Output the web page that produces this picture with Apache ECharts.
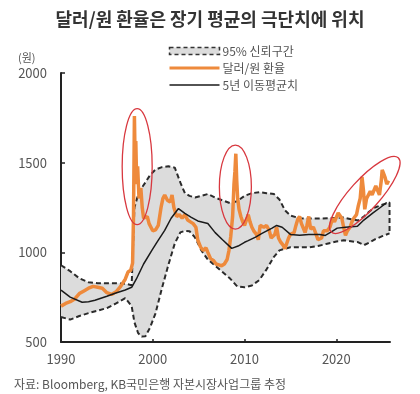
<!DOCTYPE html>
<html><head><meta charset="utf-8">
<script src="https://cdn.jsdelivr.net/npm/echarts@6/dist/echarts.min.js"></script>
<style>html,body{margin:0;padding:0;background:#fff;}#c{width:420px;height:394px;}</style>
</head><body><div id="c"></div>
<script>
const titleText = '달러/원 환율은 장기 평균의 극단치에 위치';
const unitText = '(원)';
const sourceText = '자료: Bloomberg, KB국민은행 자본시장사업그룹 추정';
const seriesNames = ['95% 신뢰구간', '달러/원 환율', '5년 이동평균치'];
const xTicks = [1990, 2000, 2010, 2020];
const yTicks = [500, 1000, 1500, 2000];

const bandYears = [1990,1991,1992,1993,1994,1995,1996,1997,1997.7,1998,1998.4,1998.8,1999.2,1999.7,2000.3,2001,2001.7,2002.4,2003,2003.5,2004,2004.6,2005.3,2006,2006.8,2007.6,2008.4,2009.2,2010,2010.8,2011.6,2012.4,2013.2,2013.8,2014.4,2015,2016,2017,2018,2019,2020,2020.8,2021.6,2022.4,2023,2023.6,2024.2,2025,2025.8];
const bandUpper = [928,895,855,833,828,828,828,825,817,1250,1320,1360,1390,1430,1462,1475,1480,1472,1390,1330,1315,1306,1315,1325,1305,1290,1275,1285,1315,1330,1335,1330,1325,1295,1235,1205,1190,1188,1188,1190,1192,1194,1185,1178,1200,1228,1250,1265,1278];
const bandLower = [639,625,645,661,675,689,715,745,700,610,550,530,532,580,660,800,930,1050,1111,1120,1118,1083,1010,960,925,890,855,810,805,815,845,905,975,1011,1020,1028,1028,1028,1035,1048,1060,1067,1062,1056,1040,1055,1072,1090,1106];

const usdYears = [1990,1990.5,1991,1991.5,1992,1992.5,1993,1993.5,1994,1994.5,1995,1995.5,1996,1996.5,1997,1997.3,1997.6,1997.8,1997.9,1998,1998.08,1998.15,1998.25,1998.35,1998.5,1998.7,1998.85,1999,1999.2,1999.4,1999.6,1999.8,2000,2000.3,2000.6,2000.9,2001.1,2001.3,2001.6,2001.9,2002.1,2002.3,2002.6,2002.9,2003.2,2003.5,2003.8,2004.1,2004.4,2004.7,2004.9,2005.2,2005.5,2005.8,2006,2006.3,2006.6,2006.9,2007.2,2007.5,2007.8,2008.1,2008.3,2008.5,2008.7,2008.85,2008.95,2009.05,2009.15,2009.25,2009.4,2009.6,2009.8,2010,2010.2,2010.4,2010.6,2010.8,2011,2011.3,2011.5,2011.7,2011.9,2012.1,2012.4,2012.7,2012.9,2013.1,2013.3,2013.5,2013.7,2013.9,2014.2,2014.4,2014.6,2014.8,2015,2015.2,2015.4,2015.6,2015.8,2016,2016.2,2016.4,2016.6,2016.8,2017,2017.2,2017.5,2017.8,2018,2018.2,2018.4,2018.6,2018.8,2019,2019.3,2019.6,2019.8,2020,2020.2,2020.4,2020.6,2020.8,2021,2021.2,2021.5,2021.7,2021.9,2022.2,2022.4,2022.6,2022.8,2022.95,2023.1,2023.3,2023.5,2023.7,2023.9,2024.1,2024.3,2024.5,2024.7,2024.9,2025,2025.15,2025.3,2025.5,2025.7];
const usdValues = [700,715,725,740,770,785,800,810,805,800,775,765,780,810,850,890,900,940,1200,1760,1500,1620,1380,1480,1300,1360,1250,1190,1180,1200,1160,1140,1120,1125,1150,1250,1300,1320,1290,1280,1320,1250,1200,1210,1190,1210,1180,1170,1160,1140,1070,1030,1010,1025,1000,965,955,935,930,925,935,960,1010,1090,1200,1380,1450,1550,1400,1300,1240,1200,1170,1150,1140,1210,1170,1140,1120,1100,1070,1150,1160,1140,1150,1120,1080,1070,1100,1140,1080,1060,1040,1020,1030,1080,1100,1090,1110,1150,1185,1200,1160,1170,1110,1150,1200,1130,1140,1100,1070,1070,1080,1120,1130,1120,1140,1190,1170,1160,1220,1210,1190,1140,1095,1120,1140,1170,1190,1210,1260,1300,1420,1350,1240,1300,1290,1340,1320,1330,1370,1380,1320,1400,1460,1440,1420,1380,1400];

const maYears = [1990,1991,1992.3,1993,1993.7,1995,1995.9,1997,1997.7,1998.2,1999,1999.9,2000.5,2001.3,2002,2002.8,2003.5,2004.2,2004.9,2006,2006.8,2007.6,2008.6,2009.3,2010,2010.4,2011.2,2011.9,2013,2013.5,2014.1,2015,2016,2017,2018.2,2018.8,2019.5,2020.1,2021,2022.3,2023,2024,2024.8,2025.5];
const maValues = [789,750,722,725,733,755,772,790,805,850,935,1011,1060,1122,1190,1244,1217,1195,1175,1161,1110,1070,1022,1035,1056,1065,1085,1106,1135,1150,1140,1100,1095,1100,1100,1094,1115,1135,1140,1145,1180,1220,1250,1278];

// annotation ellipses: center in data coords, radii in px, rotation in degrees
const notes = [
  {x: 1998.3, y: 1478, rx: 15, ry: 58, rot: 0},
  {x: 2009.0, y: 1364, rx: 16, ry: 42, rot: 0},
  {x: 2023.1, y: 1320, rx: 50, ry: 15, rot: 48}
];

const FONT = '"Noto Sans CJK KR", "Noto Sans", sans-serif';
const pair = (xs, ys) => xs.map((x, i) => [x, ys[i]]);
const upperOutline = pair(bandYears, bandUpper).concat([[bandYears[bandYears.length-1], bandLower[bandLower.length-1]]]);

const chart = echarts.init(document.getElementById('c'), null, {renderer: 'canvas'});
const dash = {color: '#2b2b2b', width: 2, type: [5, 3]};
chart.setOption({
  animation: false,
  backgroundColor: '#fff',
  textStyle: {fontFamily: FONT},
  title: [
    {text: titleText, left: 'center', top: 5, textStyle: {fontFamily: FONT, fontSize: 18, fontWeight: 'bold', color: '#333'}},
    {text: unitText, left: 13, top: 47, textStyle: {fontFamily: FONT, fontSize: 11, fontWeight: 'normal', color: '#555'}},
    {text: sourceText, left: 9, top: 373, textStyle: {fontFamily: FONT, fontSize: 12, fontWeight: 'normal', color: '#555'}}
  ],
  legend: {
    orient: 'vertical', left: 163, top: 40, itemWidth: 50, itemHeight: 7, itemGap: 5,
    textStyle: {fontFamily: FONT, fontSize: 12, color: '#555', padding: [0, 0, 0, -2]},
    data: [
      {name: seriesNames[0], icon: 'rect', itemStyle: {color: '#dcdcdc', borderColor: '#333', borderWidth: 1.5, borderType: [4, 3]}},
      {name: seriesNames[1], lineStyle: {width: 3}, itemStyle: {opacity: 0}},
      {name: seriesNames[2], lineStyle: {width: 1.5}, itemStyle: {opacity: 0}}
    ],
    selectedMode: false
  },
  grid: {left: 61, top: 73, width: 329, height: 269, containLabel: false},
  xAxis: {
    type: 'value', min: xTicks[0], max: 2025.85, interval: 10,
    axisLine: {show: true, lineStyle: {color: '#222', width: 2}},
    axisTick: {show: true, inside: true, length: 3, lineStyle: {color: '#222', width: 1.5}},
    axisLabel: {showMaxLabel: false, color: '#555', fontSize: 13, margin: 11, fontFamily: FONT,
      formatter: v => xTicks.includes(v) ? String(v) : ''},
    splitLine: {show: false}
  },
  yAxis: {
    type: 'value', min: yTicks[0], max: yTicks[yTicks.length-1], interval: 500,
    axisLine: {show: true, lineStyle: {color: '#222', width: 2}},
    axisTick: {show: true, inside: true, length: 4, lineStyle: {color: '#222', width: 1.5}},
    axisLabel: {color: '#555', fontSize: 13, margin: 14, fontFamily: FONT, formatter: v => String(v)},
    splitLine: {show: false}
  },
  series: [
    {type: 'custom', name: seriesNames[0], data: pair(bandYears, bandUpper), silent: true, z: 1,
      itemStyle: {color: '#dcdcdc'},
      renderItem: (params, api) => {
        if (params.dataIndex !== 0) return null;
        const top = bandYears.map((x, i) => api.coord([x, bandUpper[i]]));
        const bot = bandYears.map((x, i) => api.coord([x, bandLower[i]])).reverse();
        return {type: 'polygon', shape: {points: top.concat(bot)}, style: {fill: '#dcdcdc', stroke: null}};
      }},
    {type: 'line', name: 'upper', data: upperOutline, symbol: 'none', lineStyle: dash, silent: true, z: 2},
    {type: 'line', name: 'lower', data: pair(bandYears, bandLower), symbol: 'none', lineStyle: dash, silent: true, z: 2},
    {type: 'line', name: seriesNames[1], data: pair(usdYears, usdValues), symbol: 'none', lineStyle: {color: '#EE8A3C', width: 3.5}, itemStyle: {color: '#EE8A3C'}, z: 3},
    {type: 'line', name: seriesNames[2], data: pair(maYears, maValues), symbol: 'none', lineStyle: {color: '#1a1a1a', width: 1.5}, itemStyle: {color: '#1a1a1a'}, z: 4}
  ]
});
const graphics = notes.map(n => {
  const p = chart.convertToPixel({gridIndex: 0}, [n.x, n.y]);
  return {type: 'ellipse', x: p[0], y: p[1], rotation: n.rot * Math.PI / 180,
    shape: {cx: 0, cy: 0, rx: n.rx, ry: n.ry},
    style: {fill: 'none', stroke: '#d8383f', lineWidth: 1.3}, z: 100, silent: true};
});
chart.setOption({graphic: graphics});
</script></body></html>
